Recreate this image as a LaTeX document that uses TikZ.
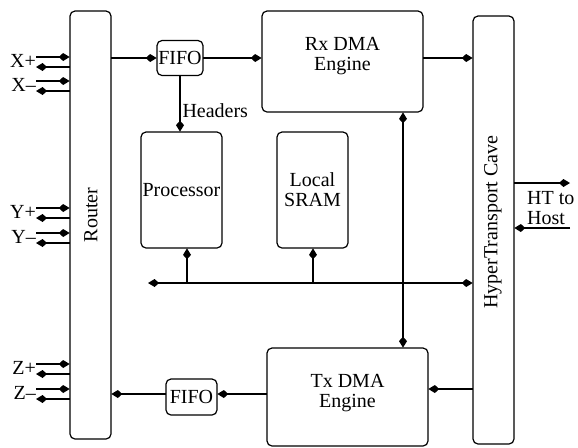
\documentclass[tikz,border=0pt]{standalone}
\usepackage{fontspec}
\setmainfont{Liberation Serif}
\usepackage{tikz}
\usetikzlibrary{positioning,arrows.meta}
\tikzset{global scale/.style={
		scale=#1,
		every node/.append style={scale=#1}
	}
}
\tikzset{
	blk/.style={draw, line width=0.6pt, rounded corners=2.5pt, inner sep=0pt},
	arr/.style={-{Kite[length=5.5pt,width=4pt,inset=2.2pt]}, line width=1pt},
	darr/.style={{Kite[length=5.5pt,width=4pt,inset=2.2pt]}-{Kite[length=5.5pt,width=4pt,inset=2.2pt]}, line width=1pt},
	every node/.append style={font=\fontsize{20}{20}\selectfont, align=center}
}

\begin{document}
\begin{tikzpicture}[global scale = 0.5, x=1pt, y=-1pt]
	\useasboundingbox (0,0) rectangle (578,447);
	
	\node[blk, minimum width=41, minimum height=428] (router) at (90.5, 225) {};
	\node[rotate=90] (routertxt) at (91, 215) {Router};
	\node[blk, minimum width=41, minimum height=428] (ht) at (493.5, 230) {};
	\node[rotate=90] (httxt) at (493, 222) {HyperTransport Cave};
	
	\node[blk, minimum width=46, minimum height=35] (fifoin) at (180, 58) {FIFO};
	\node[blk, minimum width=51, minimum height=36] (fifoout) at (191.5, 397) {FIFO};
	
	\node[blk, minimum width=161, minimum height=101] (rx) at (342.5, 61.5) {};
	\node (rxtxt) at (342.5, 56) {Rx DMA\\Engine};
	\node[blk, minimum width=161, minimum height=98] (tx) at (347.5, 397) {};
	\node (txtxt) at (347.5, 393.5) {Tx DMA\\Engine};
	
	\node[blk, minimum width=81, minimum height=116] (proc) at (181.5, 190) {Processor};
	\node[blk, minimum width=71, minimum height=116] (sram) at (312.5, 190) {Local\\SRAM};
	
	% router ports
	\foreach \p/\y in {X+/57, X–/81, Y+/208, Y–/233, Z+/364, Z–/389} {
		\coordinate (pin\y) at (36, \y);
		\coordinate (pout\y) at (36, \y + 10);
		\draw[arr] (pin\y) -- (router.west |- pin\y);
		\draw[arr] (router.west |- pout\y) -- (pout\y);
		\node[anchor=east, inner sep=0pt] (lbl\y) at (36, \y + 4) {\p};
	}
	
	% receive path
	\draw[arr] (router.east |- fifoin.west) -- (fifoin.west);
	\draw[arr] (fifoin.east) -- (rx.west |- fifoin.east);
	\draw[arr] (rx.east |- fifoin.east) -- (ht.west |- fifoin.east);
	\draw[arr] (fifoin.south) -- (proc.north -| fifoin.south)
		node[pos=0.62, anchor=west, inner sep=2pt] (hdr) {Headers};
	
	% transmit path
	\draw[arr] (ht.west |- 0, 389) -- (tx.east |- 0, 389);
	\draw[arr] (tx.west |- 0, 394) -- (fifoout.east |- 0, 394);
	\draw[arr] (fifoout.west |- 0, 394) -- (router.east |- 0, 394);
	
	% bus
	\coordinate (busl) at (148, 283);
	\draw[darr] (busl) -- (ht.west |- busl);
	\draw[arr] (187, 283) -- (proc.south -| 187, 0);
	\draw[arr] (313, 283) -- (sram.south -| 313, 0);
	\draw[darr] (rx.south -| 403, 0) -- (tx.north -| 403, 0);
	
	% host link
	\coordinate (hostout) at (570, 183);
	\coordinate (hostin) at (570, 228);
	\draw[arr] (ht.east |- hostout) -- (hostout);
	\draw[arr] (hostin) -- (ht.east |- hostin);
	\node[anchor=west, align=left, inner sep=0pt] (host) at (527, 208) {HT to\\Host};
\end{tikzpicture}
\end{document}
